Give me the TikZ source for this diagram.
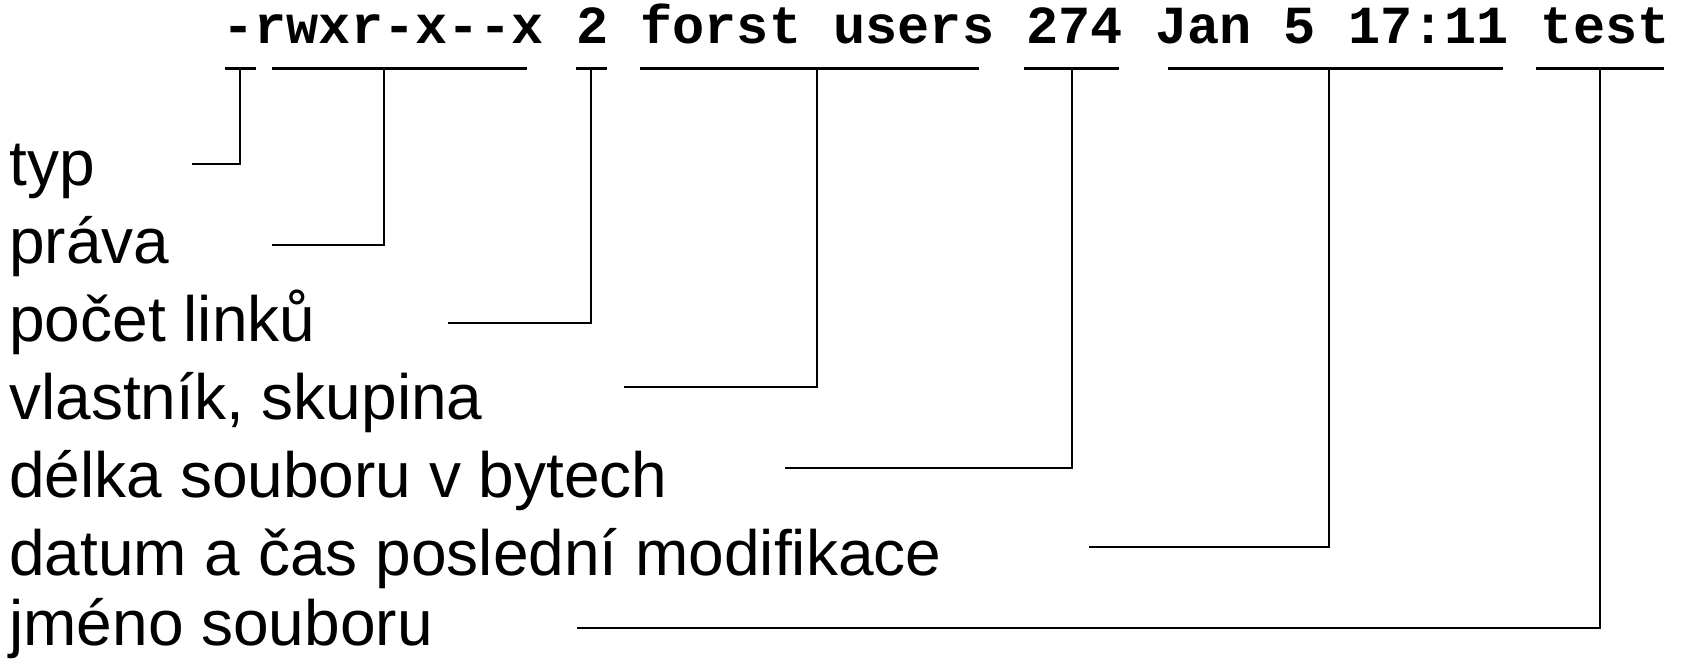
\documentclass[tikz,border=0pt]{standalone}
\usepackage{fontspec}
\setmainfont{Liberation Sans}
\newfontfamily\lsmono{Liberation Mono}
\tikzset{
  lbl/.style={anchor=base west,inner sep=0pt,font=\fontsize{32}{38}\selectfont},
  fld/.style={anchor=base west,inner sep=0pt,font=\lsmono\bfseries\fontsize{26.8}{32}\selectfont},
  brk/.style={line width=1.5pt},
  conn/.style={line width=1.1pt}
}
\begin{document}
\begin{tikzpicture}[x=0.5pt,y=-0.5pt]
\useasboundingbox(0,0)rectangle(1682,660);
% header line, one node per field
\foreach \n/\i/\t in {f1/0/-,f2/1/rwxr-x--x,f3/11/2,f4/13/forst users,f5/25/274,f6/29/Jan 5 17:11,f7/41/test}
  \node[fld](\n)at(222+32.16*\i,43){\t};
% labels
\node[lbl](typ)at(9,185){typ};
\node[lbl](prava)at(9,263){práva};
\node[lbl](pocet)at(9,341){počet linků};
\node[lbl](vlast)at(9,419){vlastník, skupina};
\node[lbl](delka)at(9,497){délka souboru v bytech};
\node[lbl](datum)at(9,575){datum a čas poslední modifikace};
\node[lbl](jmeno)at(9,645){jméno souboru};
% brackets and connectors
\foreach \k/\a/\b/\m/\y/\l in {1/225/256/240/164/192,2/272/527/384/245/272,3/576/607/591/323/448,
  4/640/979/817/387/624,5/1024/1119/1072/468/785,6/1168/1503/1329/547/1089,7/1536/1664/1600/628/577}{
  \draw[brk](\a,68)--(\b,68);
  \coordinate(b\k)at(\m,68);
  \coordinate(e\k)at(\l,\y);
  \draw[conn](b\k)|-(e\k);
}
\end{tikzpicture}
\end{document}
